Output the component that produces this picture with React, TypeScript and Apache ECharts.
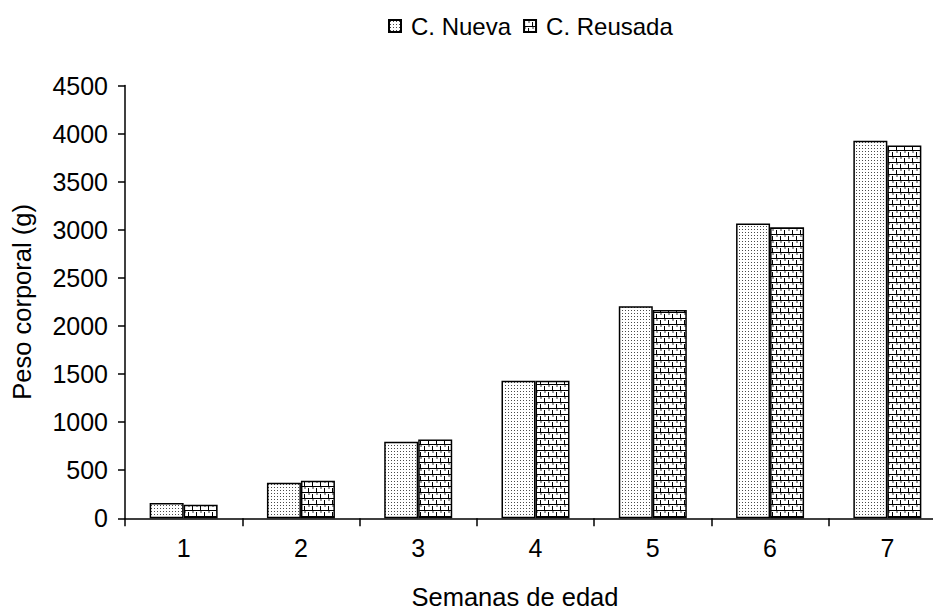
import React, { useEffect, useRef } from "react";
import * as echarts from "echarts";

const categories = ["1", "2", "3", "4", "5", "6", "7"];
const nuevaValues = [160, 370, 795, 1430, 2205, 3065, 3925];
const reusadaValues = [140, 390, 820, 1430, 2165, 3025, 3875];
const seriesNames = ["C. Nueva", "C. Reusada"];
const yTicks = { min: 0, max: 4500, interval: 500 };
const yAxisTitle = "Peso corporal (g)";
const xAxisTitle = "Semanas de edad";

function makeDots(): HTMLCanvasElement {
  const c = document.createElement("canvas");
  c.width = 3;
  c.height = 3;
  const g = c.getContext("2d")!;
  g.fillStyle = "#ffffff";
  g.fillRect(0, 0, 3, 3);
  g.fillStyle = "#4a4a4a";
  g.fillRect(1, 1, 1, 1);
  return c;
}

function makeBricks(): HTMLCanvasElement {
  const c = document.createElement("canvas");
  c.width = 8;
  c.height = 12;
  const g = c.getContext("2d")!;
  g.fillStyle = "#ffffff";
  g.fillRect(0, 0, 8, 12);
  g.fillStyle = "#000000";
  g.fillRect(0, 0, 8, 1);
  g.fillRect(0, 6, 8, 1);
  g.fillRect(0, 2, 1, 4);
  g.fillRect(4, 8, 1, 4);
  g.fillStyle = "#9a9a9a";
  g.fillRect(4, 1, 2, 2);
  g.fillRect(0, 7, 2, 2);
  return c;
}

export default function App() {
  const ref = useRef<HTMLDivElement>(null);
  useEffect(() => {
    if (!ref.current) return;
    const chart = echarts.init(ref.current, undefined, { renderer: "svg" });
    const font = "'Liberation Sans', Arial, sans-serif";
    const dots = { image: makeDots(), repeat: "repeat" };
    const bricks = { image: makeBricks(), repeat: "repeat" };
    chart.setOption({
      animation: false,
      backgroundColor: "#ffffff",
      textStyle: { fontFamily: font, color: "#000" },
      legend: {
        data: seriesNames,
        left: 383,
        top: 9,
        itemWidth: 12,
        itemHeight: 12,
        itemGap: 12,
        icon: "rect",
        textStyle: { fontSize: 24, color: "#000", fontFamily: font, padding: [0, 0, 0, 5] },
      },
      grid: { left: 125, right: 14, top: 85.5, bottom: 91.7 },
      xAxis: {
        type: "category",
        data: categories,
        axisLine: { lineStyle: { color: "#000", width: 1.5 } },
        axisTick: { show: true, length: 8, lineStyle: { color: "#000", width: 1.5 } },
        axisLabel: { fontSize: 25, color: "#000", fontFamily: font, margin: 17 },
      },
      yAxis: {
        type: "value",
        min: yTicks.min,
        max: yTicks.max,
        interval: yTicks.interval,
        name: yAxisTitle,
        nameLocation: "middle",
        nameRotate: 90,
        nameGap: 90,
        nameTextStyle: { fontSize: 25.5, color: "#000", fontFamily: font },
        axisLine: { show: true, lineStyle: { color: "#000", width: 1.5 } },
        axisTick: { show: true, length: 7, lineStyle: { color: "#000", width: 1.5 } },
        axisLabel: {
          fontSize: 25,
          color: "#000",
          fontFamily: font,
          margin: 17,
          formatter: (v: number) => String(v),
        },
        splitLine: { show: false },
      },
      graphic: [
        {
          type: "text",
          x: 515,
          y: 597,
          style: {
            text: xAxisTitle,
            fontSize: 25.5,
            fontFamily: font,
            fill: "#000",
            align: "center",
            verticalAlign: "middle",
          },
        },
      ],
      series: [
        {
          name: seriesNames[0],
          type: "bar",
          data: nuevaValues,
          barWidth: 34,
          barGap: "0%",
          itemStyle: { color: dots, borderColor: "#000", borderWidth: 1.5 },
        },
        {
          name: seriesNames[1],
          type: "bar",
          data: reusadaValues,
          barWidth: 34,
          barGap: "0%",
          itemStyle: { color: bricks, borderColor: "#000", borderWidth: 1.5 },
        },
      ],
    });
    return () => chart.dispose();
  }, []);
  return (
    <div style={{ position: "fixed", left: 0, top: 0, width: 933, height: 610, overflow: "hidden", background: "#fff" }}>
      <div ref={ref} style={{ position: "absolute", left: 0, top: 0, width: 960, height: 610 }} />
    </div>
  );
}
